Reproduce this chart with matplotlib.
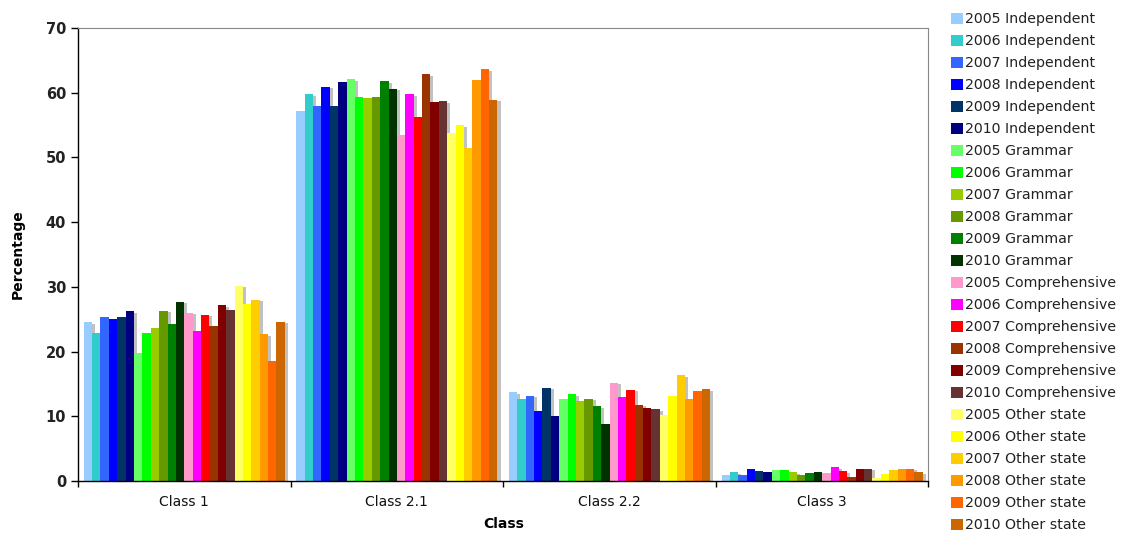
import numpy as np
import matplotlib
matplotlib.use("Agg")
import matplotlib.pyplot as plt
import matplotlib.patheffects as pe
from matplotlib.patches import Patch

classes = ["Class 1", "Class 2.1", "Class 2.2", "Class 3"]
years = ["2005", "2006", "2007", "2008", "2009", "2010"]
school_types = ["Independent", "Grammar", "Comprehensive", "Other state"]

# percentage per series, one value per class (Class 1, 2.1, 2.2, 3)
independent = [
    [24.5, 57.1, 13.7, 1.0],
    [22.8, 59.8, 12.6, 1.4],
    [25.3, 57.9, 13.2, 1.0],
    [25.1, 60.9, 10.8, 1.8],
    [25.3, 57.9, 14.4, 1.6],
    [26.2, 61.6, 10.1, 1.4],
]
grammar = [
    [19.8, 62.1, 12.6, 1.7],
    [22.9, 59.4, 13.4, 1.7],
    [23.6, 59.2, 12.3, 1.4],
    [26.3, 59.4, 12.7, 0.9],
    [24.3, 61.8, 11.6, 1.3],
    [27.7, 60.6, 8.8, 1.4],
]
comprehensive = [
    [26.0, 53.4, 15.2, 1.2],
    [23.1, 59.8, 12.9, 2.1],
    [25.7, 56.3, 14.1, 1.5],
    [24.0, 62.9, 11.8, 0.6],
    [27.2, 58.5, 11.3, 1.9],
    [26.4, 58.7, 11.1, 1.9],
]
other_state = [
    [30.2, 53.7, 10.2, 0.5],
    [27.4, 55.0, 13.2, 1.1],
    [28.0, 51.4, 16.3, 1.7],
    [22.7, 62.0, 12.7, 1.9],
    [18.5, 63.6, 13.9, 1.9],
    [24.6, 58.9, 14.2, 1.4],
]

colors = [
    "#99CCFF", "#33CCCC", "#3366FF", "#0000FF", "#003366", "#000080",
    "#66FF66", "#00FF00", "#99CC00", "#669900", "#008000", "#003300",
    "#FF99CC", "#FF00FF", "#FF0000", "#993300", "#800000", "#663333",
    "#FFFF66", "#FFFF00", "#FFCC00", "#FF9900", "#FF6600", "#CC6600",
]

series = independent + grammar + comprehensive + other_state
labels = [f"{y} {t}" for t in school_types for y in years]

fig = plt.figure(figsize=(11.25, 5.33), dpi=100)
ax = fig.add_axes([0.0693, 0.0976, 0.756, 0.85])

n = len(series)
w = 0.946 / n
x = np.arange(len(classes))
shadow = [pe.SimplePatchShadow(offset=(2.2, -1.2), shadow_rgbFace="#999999", alpha=0.6), pe.Normal()]
for i, (vals, c) in enumerate(zip(series, colors)):
    bars = ax.bar(x + (i - (n - 1) / 2) * w, vals, width=w, color=c, linewidth=0, zorder=2)
    for b in bars:
        b.set_path_effects(shadow)

ax.set_xlim(-0.5, len(classes) - 0.5)
ax.set_ylim(0, 70)
ax.set_yticks(range(0, 71, 10))
ax.set_xticks(x)
ax.set_xticklabels(classes, fontsize=10, color="#111111")
ax.set_xticks(np.arange(len(classes) + 1) - 0.5, minor=True)
ax.tick_params(axis="x", which="major", length=0, pad=10)
ax.tick_params(axis="x", which="minor", length=4, direction="out", width=1)
ax.tick_params(axis="y", length=5, direction="out", width=1, labelsize=10.5)
for t in ax.get_yticklabels():
    t.set_fontweight("bold")
    t.set_color("#222222")

for s in ["left", "bottom"]:
    ax.spines[s].set_color("black")
    ax.spines[s].set_linewidth(1)
for s in ["top", "right"]:
    ax.spines[s].set_color("#888888")
    ax.spines[s].set_linewidth(0.8)

ax.set_ylabel("Percentage", fontsize=10, fontweight="bold", labelpad=15)
ax.set_xlabel("Class", fontsize=10, fontweight="bold", labelpad=6)

handles = [Patch(facecolor=c, edgecolor="none") for c in colors]
fig.legend(handles, labels, loc="upper left", bbox_to_anchor=(0.840, 0.988),
           frameon=False, fontsize=10.2, handlelength=0.85, handleheight=0.85,
           handletextpad=0.15, labelspacing=0.565, borderaxespad=0,
           labelcolor="#222222")

fig.savefig("out.png", dpi=100)
